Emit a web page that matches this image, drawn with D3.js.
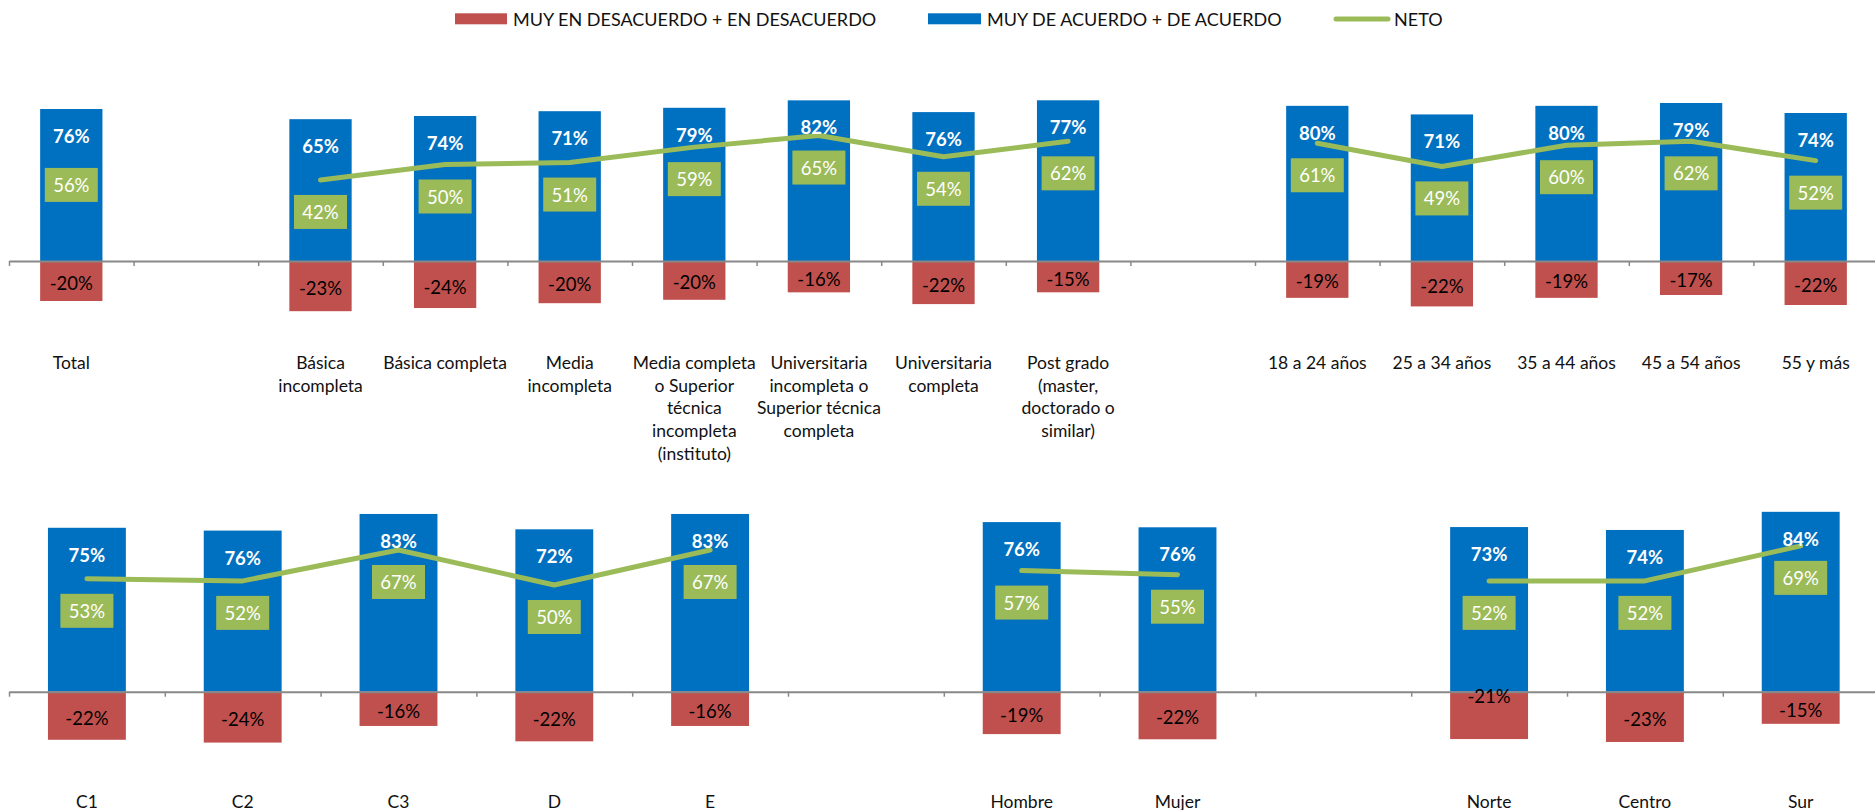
<!DOCTYPE html>
<html>
<head>
<meta charset="utf-8">
<script src="https://cdn.jsdelivr.net/npm/d3@7"></script>
<style>
  html, body { margin: 0; padding: 0; background: #fff; }
  svg { display: block; font-family: Lato, "Open Sans", sans-serif; }
</style>
</head>
<body>
<svg id="chart" width="1875" height="810"></svg>
<script>
// ---------- DATA ----------
const topCategories = ["Total", "", "Básica\nincompleta", "Básica completa", "Media\nincompleta",
  "Media completa\no Superior\ntécnica\nincompleta\n(instituto)",
  "Universitaria\nincompleta o\nSuperior técnica\ncompleta",
  "Universitaria\ncompleta", "Post grado\n(master,\ndoctorado o\nsimilar)", "",
  "18 a 24 años", "25 a 34 años", "35 a 44 años", "45 a 54 años", "55 y más"];
const topAgree    = [76, null, 65, 74, 71, 79, 82, 76, 77, null, 80, 71, 80, 79, 74];
const topDisagree = [-20, null, -23, -24, -20, -20, -16, -22, -15, null, -19, -22, -19, -17, -22];
const topNeto     = [56, null, 42, 50, 51, 59, 65, 54, 62, null, 61, 49, 60, 62, 52];

const botCategories = ["C1", "C2", "C3", "D", "E", "", "Hombre", "Mujer", "", "Norte", "Centro", "Sur"];
const botAgree    = [75, 76, 83, 72, 83, null, 76, 76, null, 73, 74, 84];
const botDisagree = [-22, -24, -16, -22, -16, null, -19, -22, null, -21, -23, -15];
const botNeto     = [53, 52, 67, 50, 67, null, 57, 55, null, 52, 52, 69];

const legendLabels = ["MUY EN DESACUERDO + EN DESACUERDO", "MUY DE ACUERDO + DE ACUERDO", "NETO"];

// ---------- STYLE ----------
const BLUE = "#0070C0", RED = "#C0504D", GREEN = "#9BBB59", AXIS = "#888888";
const svg = d3.select("#chart");

function drawPanel(cfg) {
  const n = cfg.categories.length;
  const rows = cfg.categories.map((c, i) => ({
    i, cat: c, agree: cfg.agree[i], dis: cfg.disagree[i], neto: cfg.neto[i]
  }));
  const x = d3.scaleBand().domain(d3.range(n))
    .range([cfg.x0, cfg.x0 + n * cfg.step]).paddingInner(0.5).paddingOuter(0.25);
  // 100% stacked share scale (agree + |disagree| = 100%)
  const y = d3.scaleLinear().domain([-1, 1]).range([cfg.zero + cfg.full, cfg.zero - cfg.full]);
  const yl = d3.scaleLinear().domain([0, 100]).range([cfg.lineZero, cfg.lineZero - cfg.lineFull]);
  const g = svg.append("g");
  const data = rows.filter(d => d.agree != null);
  const share = d => d.agree / (d.agree - d.dis);
  const dshare = d => -d.dis / (d.agree - d.dis);

  g.selectAll(".blue").data(data).join("rect")
    .attr("x", d => x(d.i)).attr("width", x.bandwidth())
    .attr("y", d => y(share(d))).attr("height", d => y(0) - y(share(d)))
    .attr("fill", BLUE);
  g.selectAll(".red").data(data).join("rect")
    .attr("x", d => x(d.i)).attr("width", x.bandwidth())
    .attr("y", y(0)).attr("height", d => y(-dshare(d)) - y(0))
    .attr("fill", RED);

  // axis with ticks on category boundaries
  const xe = d3.scaleLinear().domain([0, n]).range([cfg.x0, cfg.x0 + n * cfg.step]);
  const ax = g.append("g").attr("transform", `translate(0,${cfg.zero})`)
    .call(d3.axisBottom(xe).tickValues(d3.range(n + 1)).tickSize(5).tickSizeOuter(0).tickFormat(""));
  ax.select(".domain").attr("stroke", AXIS).attr("stroke-width", 2);
  ax.selectAll(".tick line").attr("stroke", AXIS).attr("stroke-width", 1.5);

  // NETO line segments
  const segs = [];
  let cur = [];
  rows.forEach(d => {
    if (d.neto == null) { if (cur.length) segs.push(cur); cur = []; }
    else cur.push(d);
  });
  if (cur.length) segs.push(cur);
  const line = d3.line().x(d => x(d.i) + x.bandwidth() / 2).y(d => yl(d.neto));
  g.selectAll(".neto").data(segs.filter(s => s.length > 1)).join("path")
    .attr("d", line).attr("fill", "none").attr("stroke", GREEN)
    .attr("stroke-width", 5).attr("stroke-linecap", "round").attr("stroke-linejoin", "round");

  // blue labels
  g.selectAll(".bl").data(data).join("text")
    .attr("x", d => x(d.i) + x.bandwidth() / 2).attr("y", d => y(share(d)) + 27)
    .attr("text-anchor", "middle").attr("dominant-baseline", "central")
    .attr("fill", "#fff").attr("font-weight", "bold").attr("font-size", 18.5)
    .text(d => d.agree + "%");
  // red labels
  g.selectAll(".rl").data(data).join("text")
    .attr("x", d => x(d.i) + x.bandwidth() / 2)
    .attr("y", d => (y(0) + y(-dshare(d))) / 2 + 2 + (cfg.nudge[d.cat] || 0))
    .attr("text-anchor", "middle").attr("dominant-baseline", "central")
    .attr("fill", "#000").attr("font-size", 18.5)
    .text(d => d.dis + "%");
  // neto boxes
  const nb = g.selectAll(".nb").data(data).join("g")
    .attr("transform", d => `translate(${x(d.i) + x.bandwidth() / 2},${yl(d.neto) + 32})`);
  nb.append("rect").attr("x", -26.5).attr("y", -17).attr("width", 53).attr("height", 34).attr("fill", GREEN);
  nb.append("text").attr("text-anchor", "middle").attr("dominant-baseline", "central")
    .attr("fill", "#fff").attr("font-size", 18.5).text(d => d.neto + "%");

  // category labels
  const cl = g.selectAll(".cl").data(rows.filter(d => d.cat)).join("text")
    .attr("text-anchor", "middle").attr("fill", "#111").attr("font-size", 17.5)
    .attr("transform", d => `translate(${x(d.i) + x.bandwidth() / 2},${cfg.labelY})`);
  cl.selectAll("tspan").data(d => d.cat.split("\n")).join("tspan")
    .attr("x", 0).attr("y", (s, k) => k * 22.7).attr("dominant-baseline", "central").text(s => s);
}

drawPanel({ categories: topCategories, agree: topAgree, disagree: topDisagree, neto: topNeto,
  x0: 9, step: 124.6, zero: 261, full: 192, lineZero: 261, lineFull: 193, labelY: 362.5, nudge: {} });
drawPanel({ categories: botCategories, agree: botAgree, disagree: botDisagree, neto: botNeto,
  x0: 9, step: 155.8, zero: 691.7, full: 212, lineZero: 688, lineFull: 206, labelY: 801, nudge: { "Norte": -21 } });

// ---------- LEGEND ----------
const lg = svg.append("g").attr("font-size", 18).attr("fill", "#111");
lg.append("rect").attr("x", 455).attr("y", 13.3).attr("width", 52).attr("height", 11).attr("fill", RED);
lg.append("text").attr("x", 513).attr("y", 19).attr("dominant-baseline", "central").text(legendLabels[0]);
lg.append("rect").attr("x", 928).attr("y", 13.3).attr("width", 53).attr("height", 11).attr("fill", BLUE);
lg.append("text").attr("x", 987).attr("y", 19).attr("dominant-baseline", "central").text(legendLabels[1]);
lg.append("line").attr("x1", 1336).attr("x2", 1388).attr("y1", 19).attr("y2", 19)
  .attr("stroke", GREEN).attr("stroke-width", 5).attr("stroke-linecap", "round");
lg.append("text").attr("x", 1394).attr("y", 19).attr("dominant-baseline", "central").text(legendLabels[2]);
</script>
</body>
</html>
